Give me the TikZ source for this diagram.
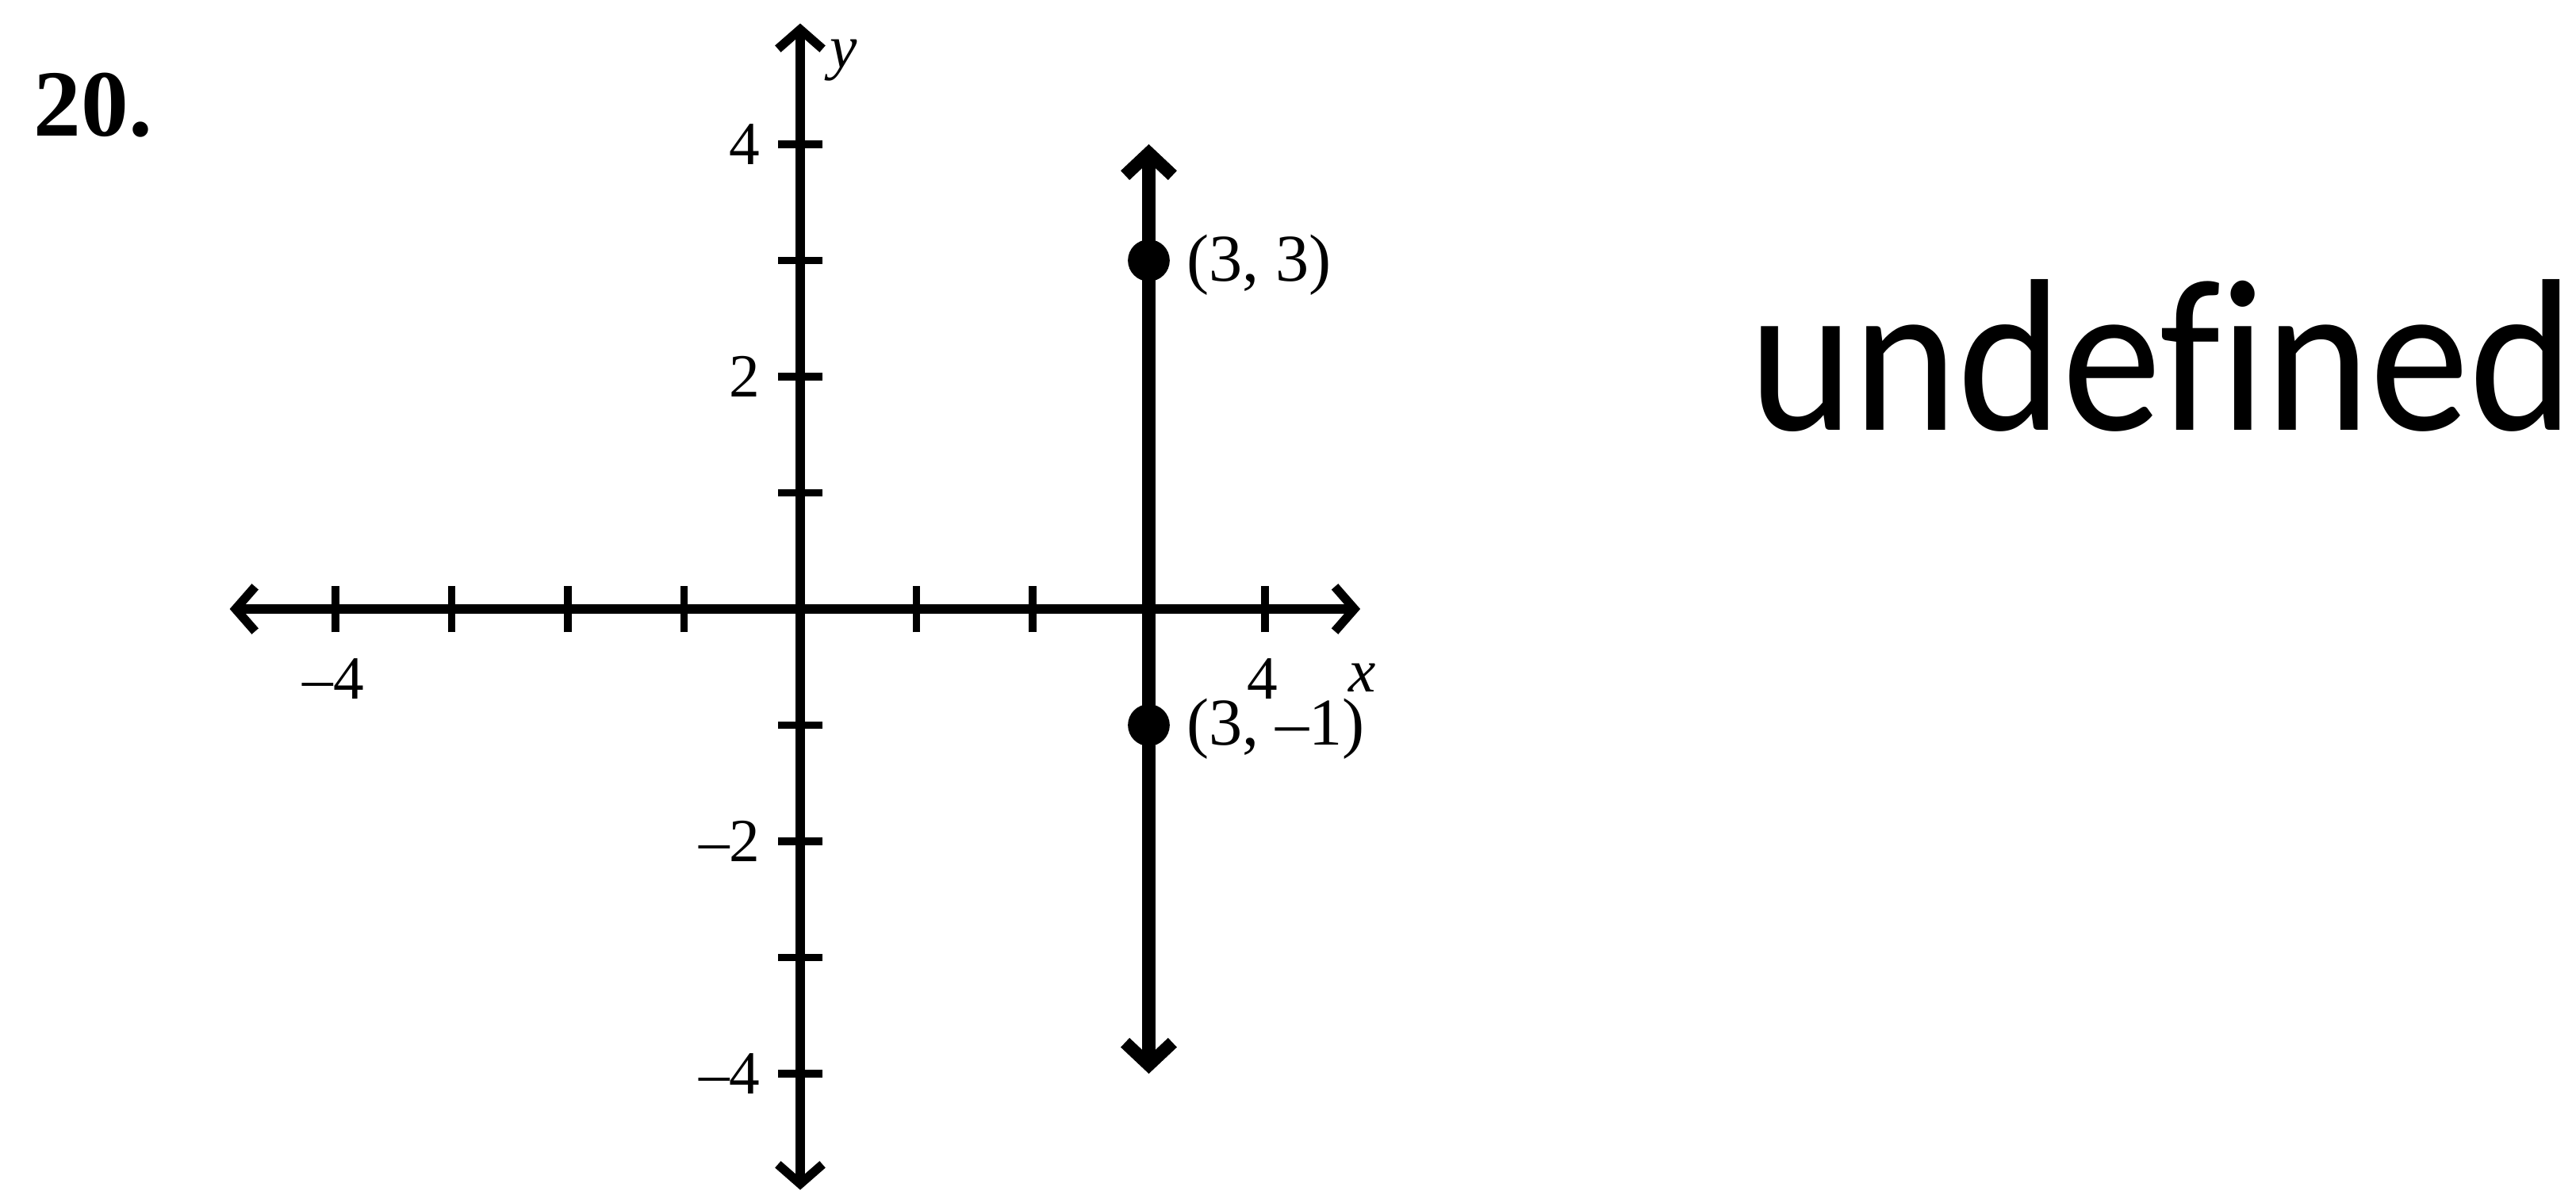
\documentclass[tikz,border=0pt]{standalone}
\usepackage{fontspec}
\setmainfont{Liberation Serif}
\newfontfamily\handfont[Ligatures=NoCommon]{Carlito}
\usetikzlibrary{arrows.meta}
\begin{document}
\begin{tikzpicture}[x=1.465cm,y=1.465cm,
  barb/.tip={Straight Barb[length=7pt,width=16pt]},
  gbarb/.tip={Straight Barb[length=8pt,width=17pt]},
  axisline/.style={line width=3.2pt,barb-barb},
  graphline/.style={line width=4.6pt,gbarb-gbarb},
  tickmark/.style={line width=2.8pt},
  dot/.style={circle,fill=black,inner sep=0pt,minimum size=15pt},
  ticklab/.style={font=\fontsize{22}{24}\selectfont,inner sep=0pt},
  ptlab/.style={font=\fontsize{24}{26}\selectfont,inner sep=0pt,anchor=west},
  axlab/.style={font=\fontsize{22}{24}\selectfont\itshape,inner sep=0pt}]
\fill[white] (-6.887,-5.038) rectangle (15.283,5.242);
\useasboundingbox (-6.887,-5.038) rectangle (15.283,5.242);
% problem number
\node[font=\fontsize{34}{36}\selectfont\bfseries,inner sep=0pt,anchor=base west] (num) at (-6.60,4.068) {20.};
% axes
\coordinate (xl) at (-4.91,0);
\coordinate (xr) at (4.82,0);
\coordinate (yt) at (0,5.04);
\coordinate (yb) at (0,-5.0);
\draw[axisline] (xl) -- (xr);
\draw[axisline] (yb) -- (yt);
% ticks
\foreach \i in {-4,-3,-2,-1,1,2,3,4} {
  \draw[tickmark] (\i,-0.2) -- (\i,0.2);
  \draw[tickmark] (-0.19,\i) -- (0.19,\i);
}
% tick labels
\node[ticklab,anchor=north] (xm4) at (-4.02,-0.42) {–4};
\node[ticklab,anchor=north] (xp4) at (3.98,-0.42) {4};
\node[ticklab,anchor=east] (yp4) at (-0.34,4) {4};
\node[ticklab,anchor=east] (yp2) at (-0.34,2) {2};
\node[ticklab,anchor=east] (ym2) at (-0.34,-2) {–2};
\node[ticklab,anchor=east] (ym4) at (-0.34,-4) {–4};
% axis names
\node[axlab] (ylab) at (0.37,4.72) {y};
\node[axlab] (xlab) at (4.84,-0.59) {x};
% the line x = 3
\coordinate (lt) at (3,4);
\coordinate (lb) at (3,-4);
\draw[graphline] (lb) -- (lt);
\node[dot] (p1) at (3,3) {};
\node[dot] (p2) at (3,-1) {};
\node[ptlab] (p1lab) at (3.32,2.96) {(3, 3)};
\node[ptlab] (p2lab) at (3.32,-1.03) {(3, –1)};
% answer
\node[inner sep=0pt,anchor=base west] (ans) at (8.16,1.536) {\resizebox{104mm}{19mm}{\handfont undefined}};
\end{tikzpicture}
\end{document}
